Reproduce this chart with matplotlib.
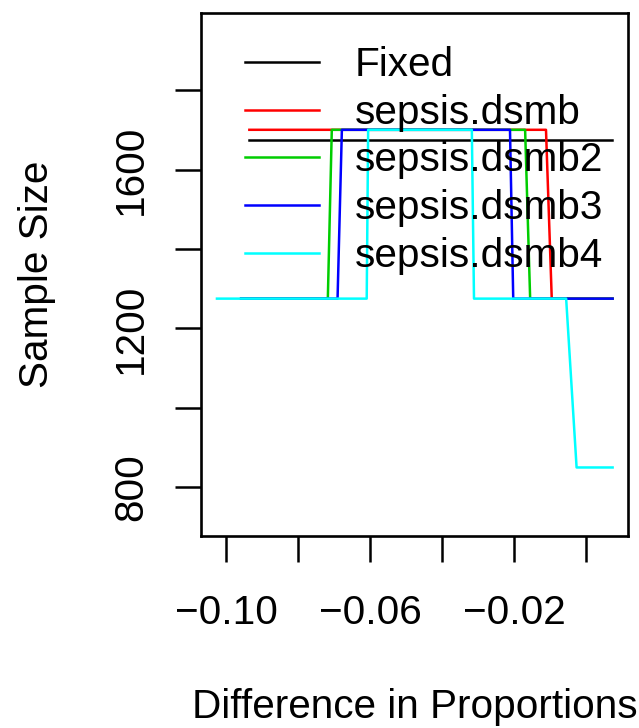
import matplotlib
matplotlib.use("Agg")
import matplotlib.pyplot as plt

# ---- Data ----
fixed_x = [-0.0936, 0.0072]
fixed_y = [1675, 1675]

dsmb_x = [-0.0936, -0.0112, -0.0096, 0.0073]
dsmb_y = [1700, 1700, 1275, 1275]

dsmb2_x = [-0.0959, -0.0718, -0.0707, -0.0170, -0.0156, 0.0073]
dsmb2_y = [1275, 1275, 1700, 1700, 1275, 1275]

dsmb3_x = [-0.0959, -0.0691, -0.0679, -0.0212, -0.0203, 0.0073]
dsmb3_y = [1275, 1275, 1700, 1700, 1275, 1275]

dsmb4_x = [-0.1026, -0.0610, -0.0606, -0.0318, -0.0312, -0.0056, -0.0027, 0.0073]
dsmb4_y = [1275, 1275, 1700, 1700, 1275, 1275, 850, 850]

x_ticks = [-0.10, -0.08, -0.06, -0.04, -0.02, 0.00]
x_labels = ["\u22120.10", "", "\u22120.06", "", "\u22120.02", ""]
y_ticks = [800, 1000, 1200, 1400, 1600, 1800]
y_labels = ["800", "", "1200", "", "1600", ""]

# ---- Style ----
plt.rcParams["font.family"] = ["Liberation Sans", "DejaVu Sans"]
fs = 29.2
lw = 1.8

fig = plt.figure(figsize=(6.39, 7.28), dpi=100)
ax = fig.add_axes([201 / 639, 1 - 536 / 728, 427 / 639, 523 / 728])

ax.plot(fixed_x, fixed_y, color="black", lw=lw, label="Fixed")
ax.plot(dsmb_x, dsmb_y, color="#FF0000", lw=lw, label="sepsis.dsmb")
ax.plot(dsmb2_x, dsmb2_y, color="#00CD00", lw=lw, label="sepsis.dsmb2")
ax.plot(dsmb3_x, dsmb3_y, color="#0000FF", lw=lw, label="sepsis.dsmb3")
ax.plot(dsmb4_x, dsmb4_y, color="#00FFFF", lw=lw, label="sepsis.dsmb4")

ax.set_xlim(-0.10703, 0.01158)
ax.set_ylim(677.5, 1994)

ax.set_xticks(x_ticks)
ax.set_xticklabels(x_labels, fontsize=fs)
ax.set_yticks(y_ticks)
ax.set_yticklabels(y_labels, fontsize=fs, rotation=90, va="center")

ax.tick_params(axis="both", length=18.5, width=1.8, color="black")
ax.tick_params(axis="x", pad=23)
ax.tick_params(axis="y", pad=18)
for s in ax.spines.values():
    s.set_linewidth(1.9)

ax.set_xlabel("Difference in Proportions", fontsize=fs, va="center")
ax.xaxis.set_label_coords(0.5, (536 - 707) / 523)
ax.set_ylabel("Sample Size", fontsize=fs, va="center")
ax.yaxis.set_label_coords((37 - 201) / 427, 0.5)

ax.legend(loc="upper left", bbox_to_anchor=(44 / 427, (536 - 46) / 523),
          frameon=False, fontsize=fs, borderpad=0, borderaxespad=0,
          handlelength=1.83, handletextpad=0.88, labelspacing=0.24)

fig.savefig("out.png", dpi=100)
